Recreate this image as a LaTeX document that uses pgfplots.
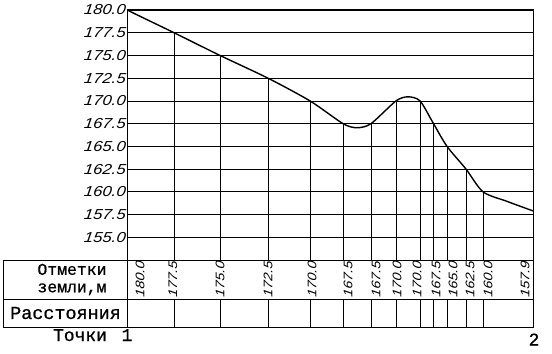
\documentclass[border=0pt]{standalone}
\usepackage{pgfplots}
\pgfplotsset{compat=1.18}
\usepackage{fontspec}
\setmainfont{Liberation Sans}
\newfontfamily\tickf[FakeStretch=1.15, FakeSlant=0.12]{Liberation Sans Italic}
\newfontfamily\monof[FakeBold=0.8]{Liberation Mono}

\pgfplotstableread{
x y
0 180.0
47 177.5
93 175.0
141 172.5
183 170.0
216 167.5
230 167.05
244 167.5
269 170.0
281 170.45
293 170.0
306.5 167.5
320 165.0
339 162.5
356 160.0
380 158.95
406 157.9
}\curve

\pgfplotstableread{
x y
47 177.5
93 175.0
141 172.5
183 170.0
216 167.5
244 167.5
269 170.0
293 170.0
306.5 167.5
320 165.0
339 162.5
356 160.0
}\points

\pgfplotstableread{
x y
47 28
93 28
141 28
183 28
216 28
244 28
269 28
293 28
306.5 28
320 28
339 28
356 28
}\rowtwo

\begin{document}
\begin{tikzpicture}[x=1bp,y=1bp]
\path[use as bounding box] (-127,-93) rectangle (425,260);
\begin{axis}[
  at={(0,0)}, anchor=south west,
  scale only axis, width=406bp, height=250bp,
  xmin=0, xmax=406, ymin=152.5, ymax=180,
  xtick=\empty,
  ytick={155,157.5,160,162.5,165,167.5,170,172.5,175,177.5,180},
  yticklabels={155.0,157.5,160.0,162.5,165.0,167.5,170.0,172.5,175.0,177.5,180.0},
  yticklabel style={font=\tickf\fontsize{14.5}{14.5}\selectfont, inner sep=1.5bp},
  major tick length=0pt,
  ymajorgrids, grid style={black, line width=0.7bp},
  axis line style={black, line width=1bp},
]
\addplot[black, line width=0.7bp, ycomb, mark=none] table {\points};
\addplot[black, line width=1.4bp, smooth, tension=0.45, mark=none] table {\curve};
\end{axis}

\begin{axis}[
  at={(-123,0)}, anchor=north west,
  scale only axis, width=529bp, height=67bp,
  xmin=-123, xmax=406, ymin=0, ymax=67,
  ticks=none, clip=false,
  axis line style={black, line width=1bp},
]
\addplot[black, line width=1bp, mark=none] coordinates {(-123,28) (406,28)};
\addplot[black, line width=1bp, mark=none] coordinates {(0,0) (0,67)};
\addplot[black, line width=0.7bp, ycomb, mark=none] table {\rowtwo};
\begin{scope}[every node/.style={rotate=90, font=\tickf\fontsize{12.5}{12.5}\selectfont, inner sep=0pt}]
\node at (axis cs:13,47.5) {180.0};
\node at (axis cs:46,47.5) {177.5};
\node at (axis cs:93,47.5) {175.0};
\node at (axis cs:141,47.5) {172.5};
\node at (axis cs:185,47.5) {170.0};
\node at (axis cs:221,47.5) {167.5};
\node at (axis cs:249,47.5) {167.5};
\node at (axis cs:270,47.5) {170.0};
\node at (axis cs:290,47.5) {170.0};
\node at (axis cs:309,47.5) {167.5};
\node at (axis cs:326,47.5) {165.0};
\node at (axis cs:343,47.5) {162.5};
\node at (axis cs:361,47.5) {160.0};
\node at (axis cs:398,47.5) {157.9};
\end{scope}
\node[font=\monof\fontsize{16.5}{16.5}\selectfont, align=center, inner sep=0pt] at (axis cs:-55,47.5) {Отметки\\[1bp]земли,м};
\node[font=\monof\fontsize{18.5}{18.5}\selectfont, inner sep=0pt] at (axis cs:-61.5,14) {Расстояния};
\node[font=\monof\fontsize{18}{18}\selectfont, inner sep=0pt, anchor=base] at (axis cs:-47,-14) {Точки};
\node[font=\monof\fontsize{18}{18}\selectfont, inner sep=0pt, anchor=base] at (axis cs:0,-14) {1};
\node[font=\monof\fontsize{18}{18}\selectfont, inner sep=0pt, anchor=base] at (axis cs:407,-18.5) {2};
\end{axis}
\end{tikzpicture}
\end{document}
